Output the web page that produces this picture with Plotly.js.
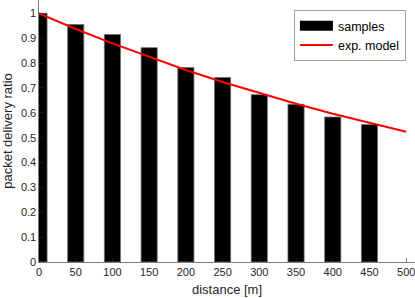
<!DOCTYPE html>
<html>
<head>
<meta charset="utf-8">
<script src="https://cdn.plot.ly/plotly-3.0.1.min.js"></script>
<style>html,body{margin:0;padding:0;background:#fff;}#chart{width:415px;height:298px;}</style>
</head>
<body>
<div id="chart"></div>
<script>
// Data
var distances = [0, 50, 100, 150, 200, 250, 300, 350, 400, 450];
var sampleRatio = [1.0, 0.955, 0.915, 0.862, 0.782, 0.742, 0.673, 0.634, 0.583, 0.553];
var modelDistances = [0, 50, 100, 150, 200, 250, 300, 350, 400, 450, 500];
var modelRatio = [1.0, 0.937, 0.879, 0.824, 0.772, 0.724, 0.679, 0.636, 0.596, 0.559, 0.524];
var xTicks = [0, 50, 100, 150, 200, 250, 300, 350, 400, 450, 500];
var yTicks = [0, 0.1, 0.2, 0.3, 0.4, 0.5, 0.6, 0.7, 0.8, 0.9, 1];

var axisColor = '#262626';
var fontFam = '"Liberation Sans", Arial, sans-serif';

var traces = [
  {
    type: 'bar', x: distances, y: sampleRatio, width: 22,
    marker: {color: '#000000', line: {color: '#707070', width: 0.8}},
    name: 'samples', showlegend: false, legendgroup: 's', hoverinfo: 'x+y'
  },
  {
    type: 'scatter', mode: 'lines', x: [null], y: [null],
    line: {color: '#000000', width: 13},
    name: 'samples', legendgroup: 's', showlegend: true
  },
  {
    type: 'scatter', mode: 'lines', x: modelDistances, y: modelRatio,
    line: {color: '#ff0000', width: 2},
    name: 'exp. model'
  }
];

var layout = {
  width: 415, height: 298,
  margin: {l: 38.7, r: 0, t: 0, b: 36},
  paper_bgcolor: '#ffffff', plot_bgcolor: '#ffffff',
  font: {family: fontFam, color: axisColor, size: 11},
  xaxis: {
    range: [0, 512], tickvals: xTicks, ticktext: xTicks.map(String),
    ticks: 'inside', ticklen: 4, tickcolor: axisColor, tickwidth: 0.6,
    showline: true, linecolor: axisColor, linewidth: 0.6,
    showgrid: false, zeroline: false, ticklabeloverflow: 'allow',
    tickfont: {size: 11, color: axisColor},
    title: {text: 'distance [m]', font: {size: 13, color: axisColor}, standoff: 7}
  },
  yaxis: {
    range: [0, 1.0535], tickvals: yTicks, ticktext: yTicks.map(String),
    ticks: 'inside', ticklen: 4, tickcolor: axisColor, tickwidth: 0.6,
    showline: true, linecolor: axisColor, linewidth: 0.6,
    showgrid: false, zeroline: false, ticklabeloverflow: 'allow',
    tickfont: {size: 11, color: axisColor},
    title: {text: 'packet delivery ratio', font: {size: 13, color: axisColor}, standoff: 6}
  },
  showlegend: true,
  legend: {
    x: 0.678, y: 0.961, xanchor: 'left', yanchor: 'top',
    bgcolor: '#ffffff', bordercolor: '#a0a0a0', borderwidth: 1,
    font: {size: 12.5, color: '#000000', family: fontFam},
    itemwidth: 33, tracegroupgap: 0
  },
  bargap: 0
};

Plotly.newPlot('chart', traces, layout, {staticPlot: true, displayModeBar: false});
</script>
</body>
</html>
